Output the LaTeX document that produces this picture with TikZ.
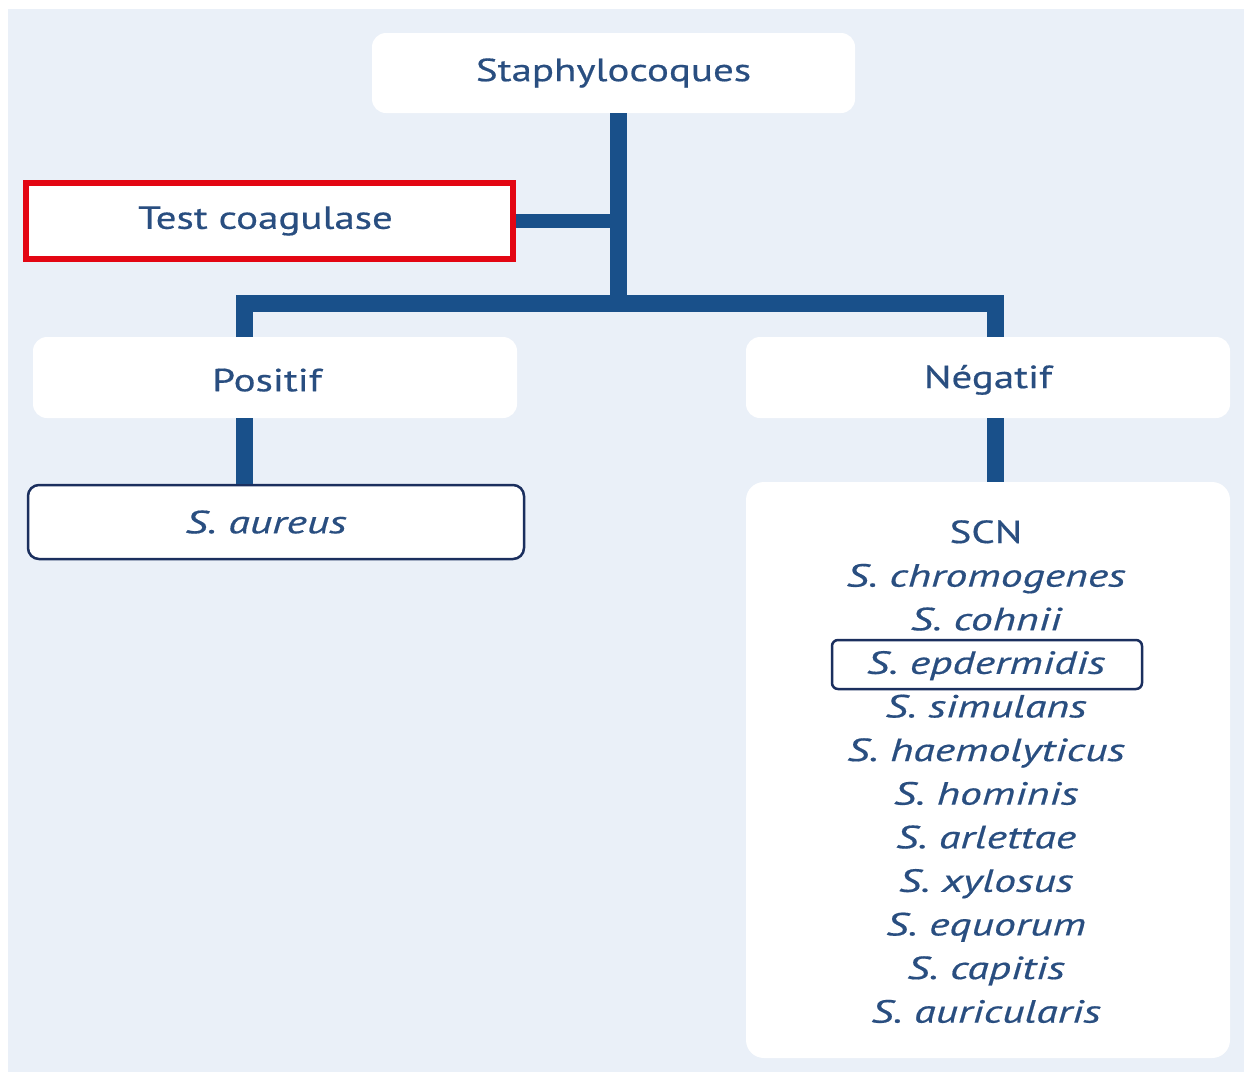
\documentclass[tikz,border=0pt]{standalone}
\usepackage{fontspec}
\setmainfont{PT Sans}[FakeStretch=1.28, FakeBold=0.5, ItalicFeatures={FakeStretch=1.37, FakeBold=0.5}]
\usetikzlibrary{positioning}
\definecolor{fond}{HTML}{EAF0F8}
\definecolor{trait}{HTML}{19508A}
\definecolor{texte}{HTML}{294E80}
\definecolor{marine}{HTML}{1B2F5E}
\definecolor{rouge}{HTML}{E30613}
\tikzset{
	boite/.style={rectangle, rounded corners=14pt, fill=white, text=texte, minimum width=484pt, minimum height=81pt, font=\fontsize{32}{38}\selectfont},
	liaison/.style={draw=trait, line width=17pt, line join=miter},
	espece/.style={text=texte, anchor=base, inner sep=0pt, font=\fontsize{32}{38}\selectfont\itshape}
}
\begin{document}
\begin{tikzpicture}[x=1pt,y=-1pt]
	% cadre et fond
	\useasboundingbox (0,0) rectangle (1244,1072);
	\fill[fond] (8,9) rectangle (1244,1072);
	% noeuds principaux
	\node[boite, minimum width=483pt, minimum height=80pt] (staph) at (613.5,73) {Staphylocoques};
	\node[boite, rounded corners=0pt, draw=rouge, line width=6pt, minimum width=487pt, minimum height=76pt] (test) at (269.5,221) {\hspace*{-8pt}Test coagulase};
	\node[boite] (pos) at (275,377.5) {\hspace*{-16pt}Positif\vphantom{É}};
	\node[boite] (neg) at (988,377.5) {Négatif\vphantom{É}};
	\node[boite, rounded corners=11pt, draw=marine, line width=2.5pt, minimum width=496pt, minimum height=74pt] (aureus) at (276,522) {\hspace*{-20pt}\itshape S. aureus};
	\node[boite, rounded corners=18pt, minimum height=576pt] (scn) at (988,770) {};
	% points de branchement
	\coordinate (jt) at (618,303);
	\coordinate (jl) at (244,303);
	\coordinate (jr) at (995,303);
	% liaisons
	\draw[liaison] (jt |- staph.south) -- (jt);
	\draw[liaison, line width=14pt] (test.east) -- (test.east -| jt);
	\draw[liaison] (jl |- pos.north) -- (jl) -- (jr) -- (jr |- neg.north);
	\draw[liaison] (jl |- pos.south) -- (jl |- aureus.north);
	\draw[liaison] (jr |- neg.south) -- (jr |- scn.north);
	% liste des SCN
	\node[espece, font=\fontsize{32}{38}\selectfont] (titre) at (986,543) {SCN};
	\foreach \nom [count=\i] in {chromogenes, cohnii, epdermidis, simulans, haemolyticus, hominis, arlettae, xylosus, equorum, capitis, auricularis}
		\node[espece] (sp\i) at (986,{543+43.6*\i}) {S. \nom};
	\draw[marine, line width=2.5pt, rounded corners=6pt] (832,640) rectangle (1142,689);
\end{tikzpicture}
\end{document}
